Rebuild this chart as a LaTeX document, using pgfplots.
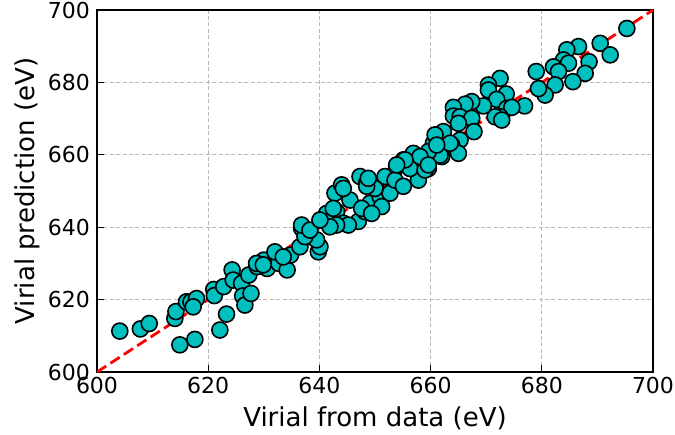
\documentclass[border=0pt]{standalone}
\usepackage{fontspec}
\setmainfont{DejaVu Sans}
\usepackage{pgfplots}
\pgfplotsset{compat=1.18}
\definecolor{cyanc}{RGB}{0,191,191}
\begin{document}
\begin{tikzpicture}
\begin{axis}[
  name=main,
  scale only axis,
  width=278pt, height=181pt,
  xmin=600, xmax=700, ymin=600, ymax=700,
  xtick={600,620,...,700}, ytick={600,620,...,700},
  tick align=inside,
  xtick pos=bottom, ytick pos=left,
  major tick length=3.5pt,
  tick style={black, line width=0.6pt},
  axis line style={black, line width=0.75pt},
  grid=major,
  major grid style={gray!55, dash pattern=on 2pt off 1.2pt, line width=0.4pt},
  /pgf/number format/assume math mode=true,
  /pgf/number format/1000 sep={},
  ticklabel style={font=\fontsize{11}{12}\selectfont},
  xticklabel style={yshift=0.8pt},
  label style={font=\fontsize{13}{14}\selectfont},
  xlabel={Virial from data (eV)},
  ylabel={Virial prediction (eV)},
  xlabel style={at={(axis description cs:0.5,-0.1519)}, anchor=base},
  ylabel style={at={(axis description cs:-0.1133,0.5)}, anchor=base},
  clip=true,
]
\addplot[only marks, mark=*, mark size=4pt,
  mark options={fill=cyanc, draw=black, line width=0.8pt}] table {
x y
604.1 611.3
607.8 611.9
609.4 613.4
614.9 607.5
617.6 609.0
614.0 614.8
614.2 616.7
616.1 619.4
616.9 619.4
617.9 620.3
617.3 618.0
622.1 611.6
623.3 616.0
621.0 622.8
621.1 621.1
622.8 623.6
624.3 628.2
624.5 625.4
626.0 624.5
626.2 621.0
626.6 618.5
627.7 621.7
627.3 626.8
628.8 629.1
630.0 630.9
630.6 628.6
632.1 632.8
632.7 630.0
634.2 628.2
634.8 632.3
628.7 630.0
629.9 629.6
632.0 633.2
633.5 631.8
636.5 634.6
636.8 639.7
638.0 637.4
639.8 633.2
640.1 634.6
639.5 636.5
640.4 642.0
641.9 643.4
643.1 644.3
644.3 641.1
642.8 649.4
644.0 651.7
645.5 647.5
647.0 641.6
647.3 654.0
648.5 652.1
648.2 644.3
649.1 646.6
650.3 650.3
650.9 648.5
651.8 654.0
652.7 649.4
653.9 656.7
655.1 658.6
656.9 660.4
657.8 653.0
659.6 656.2
662.0 659.5
637.4 637.4
636.8 640.6
641.3 643.8
642.5 645.2
644.3 650.7
645.2 640.6
650.0 650.7
651.2 645.7
653.6 653.0
655.1 651.3
656.3 656.2
659.0 655.8
648.5 651.3
647.6 645.2
643.1 640.6
641.9 640.1
638.3 639.2
640.1 642.0
648.8 653.5
649.4 643.8
662.0 665.9
661.1 665.0
665.3 664.1
663.8 662.7
665.0 660.4
661.7 659.9
660.5 663.2
659.6 660.9
658.1 659.5
659.6 657.2
655.4 658.6
653.9 657.2
664.4 670.5
666.5 671.0
695.3 694.9
690.5 690.8
692.3 687.6
688.5 685.7
687.8 682.5
685.6 680.2
686.6 689.9
684.5 689.0
683.9 686.2
684.8 685.3
682.1 684.3
683.0 683.0
679.0 683.0
682.4 679.3
680.6 676.5
679.4 678.3
676.9 673.5
672.5 681.1
670.4 679.3
670.4 677.9
673.6 676.8
671.9 675.3
673.7 672.8
674.6 673.1
672.5 670.5
671.6 670.5
672.8 669.6
669.5 673.5
667.4 674.7
666.2 674.0
664.1 673.1
664.1 670.7
665.3 670.5
667.4 670.1
665.0 668.7
667.8 666.4
662.3 666.4
660.8 665.5
663.5 663.2
661.1 662.7
};
\addplot[red, line width=1.4pt, dash pattern=on 5.5pt off 2.5pt] coordinates {(600,600) (700,700)};
\end{axis}
\pgfresetboundingbox
\path[use as bounding box] ([shift={(-48.5pt,-31pt)}]main.south west) rectangle ([shift={(11pt,5pt)}]main.north east);
\end{tikzpicture}
\end{document}
